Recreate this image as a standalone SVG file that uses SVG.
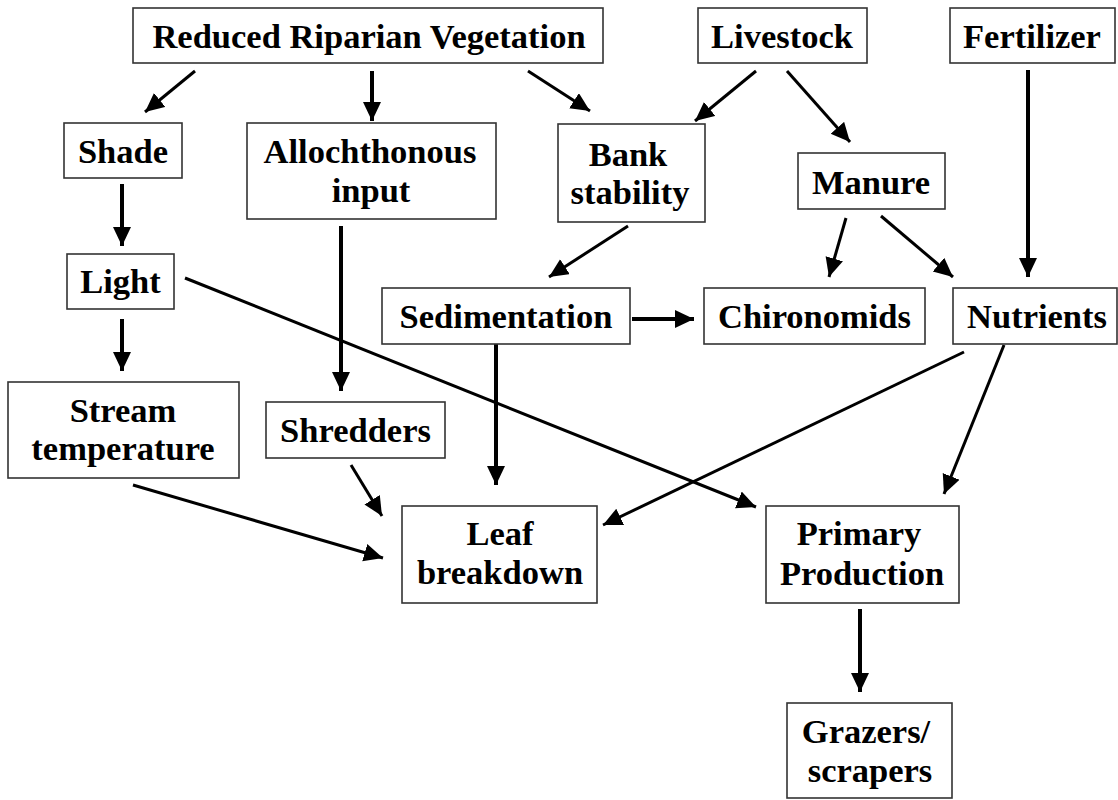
<svg xmlns="http://www.w3.org/2000/svg" width="1118" height="800" viewBox="0 0 1118 800">
<style>
.box{fill:#fff;stroke:#333;stroke-width:1.6}
.t{font-family:"Liberation Serif","Times New Roman",serif;font-weight:bold;font-size:34.5px;fill:#000;text-anchor:middle}
.c line{stroke:#000;stroke-width:3;marker-end:url(#ah)}
.c line.v{stroke-width:4}
</style>
<defs>
<marker id="ah" markerUnits="userSpaceOnUse" markerWidth="22" markerHeight="20" refX="19" refY="9" orient="auto">
<path d="M0,0 L19,9 L0,18 Z" fill="#000"/>
</marker>
</defs>
<rect width="1118" height="800" fill="#fff"/>
<g class="c" id="connectors">
<line x1="195" y1="71" x2="145" y2="112"/>
<line class="v" x1="372" y1="71" x2="372" y2="121"/>
<line x1="528" y1="71" x2="590" y2="111"/>
<line x1="756" y1="71" x2="695" y2="121"/>
<line x1="787" y1="71" x2="850" y2="142"/>
<line class="v" x1="1028" y1="70" x2="1028" y2="277"/>
<line class="v" x1="122" y1="184" x2="122" y2="246"/>
<line class="v" x1="341" y1="226" x2="341" y2="391"/>
<line x1="628" y1="226" x2="549" y2="277"/>
<line x1="846" y1="218" x2="829" y2="277"/>
<line x1="881" y1="216" x2="953" y2="277"/>
<line class="v" x1="632" y1="319" x2="694" y2="319"/>
<line x1="185" y1="278" x2="756" y2="507"/>
<line class="v" x1="122" y1="319" x2="122" y2="371"/>
<line class="v" x1="496" y1="341" x2="496" y2="485"/>
<line x1="964" y1="352" x2="603" y2="525"/>
<line x1="1004" y1="345" x2="944" y2="494"/>
<line x1="133" y1="485" x2="383" y2="558"/>
<line x1="351" y1="465" x2="382" y2="516"/>
<line class="v" x1="860" y1="609" x2="860" y2="692"/>
</g>
<g id="reduced"><rect class="box" x="133" y="8" width="470" height="55"/><text class="t" x="369" y="48">Reduced Riparian Vegetation</text></g>
<g id="livestock"><rect class="box" x="698" y="8" width="169" height="55"/><text class="t" x="782" y="48">Livestock</text></g>
<g id="fertilizer"><rect class="box" x="950" y="8" width="165" height="55"/><text class="t" x="1032" y="48">Fertilizer</text></g>
<g id="shade"><rect class="box" x="64" y="123" width="118" height="55"/><text class="t" x="123" y="163">Shade</text></g>
<g id="alloch"><rect class="box" x="247" y="123" width="249" height="96"/><text class="t" x="370" y="163">Allochthonous</text><text class="t" x="371" y="202">input</text></g>
<g id="bank"><rect class="box" x="558" y="124" width="147" height="98"/><text class="t" x="628" y="166">Bank</text><text class="t" x="630" y="204">stability</text></g>
<g id="manure"><rect class="box" x="798" y="153" width="147" height="56"/><text class="t" x="871" y="194">Manure</text></g>
<g id="light"><rect class="box" x="67" y="254" width="107" height="55"/><text class="t" x="120.5" y="293">Light</text></g>
<g id="sedimentation"><rect class="box" x="382" y="288" width="248" height="56"/><text class="t" x="506" y="328">Sedimentation</text></g>
<g id="chironomids"><rect class="box" x="704" y="288" width="221" height="56"/><text class="t" x="814.5" y="328">Chironomids</text></g>
<g id="nutrients"><rect class="box" x="953" y="288" width="164" height="56"/><text class="t" x="1037" y="328">Nutrients</text></g>
<g id="streamtemp"><rect class="box" x="8" y="382" width="231" height="96"/><text class="t" x="123" y="422">Stream</text><text class="t" x="123" y="460">temperature</text></g>
<g id="shredders"><rect class="box" x="266" y="402" width="179" height="56"/><text class="t" x="355.5" y="442">Shredders</text></g>
<g id="leaf"><rect class="box" x="402" y="506" width="195" height="97"/><text class="t" x="500" y="545">Leaf</text><text class="t" x="500" y="584">breakdown</text></g>
<g id="primary"><rect class="box" x="766" y="506" width="193" height="97"/><text class="t" x="859" y="545">Primary</text><text class="t" x="862" y="585">Production</text></g>
<g id="grazers"><rect class="box" x="787" y="703" width="165" height="95"/><text class="t" x="866" y="743">Grazers/</text><text class="t" x="870" y="782">scrapers</text></g>
</svg>
